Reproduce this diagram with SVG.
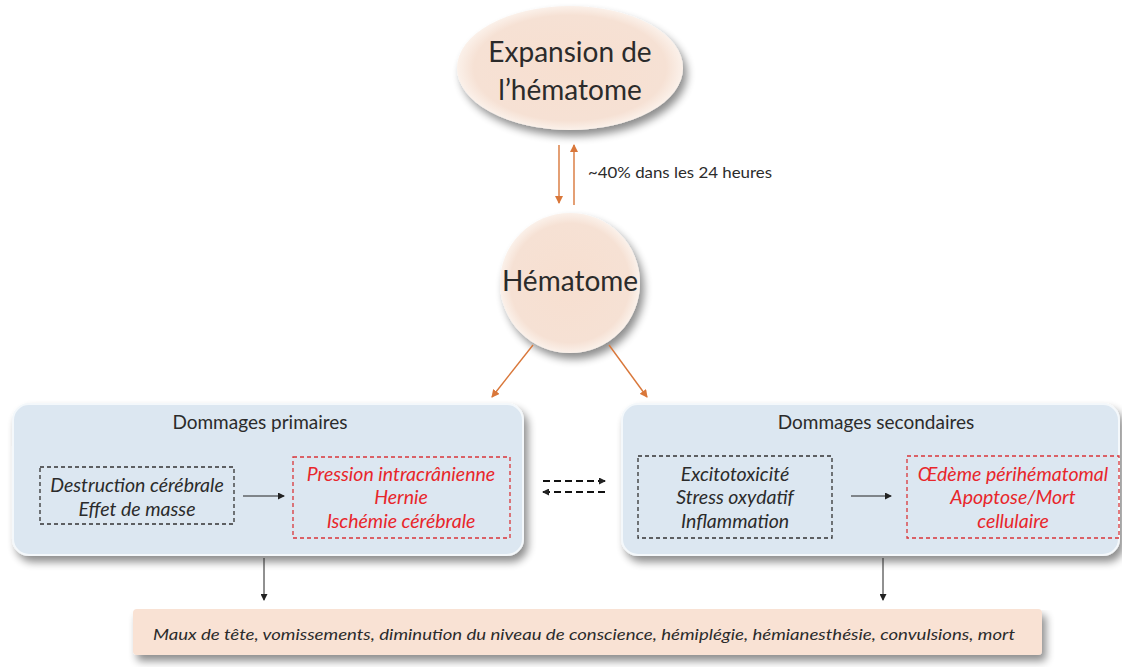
<svg xmlns="http://www.w3.org/2000/svg" width="1122" height="667" viewBox="0 0 1122 667">
<defs>
<style>
.t{font-family:Lato,"Open Sans","Liberation Sans",sans-serif;fill:#2b2b2b}
.big{font-size:28px}
.hd{font-size:19px}
.it{font-size:19.5px;font-style:italic}
.red{fill:#e8262b}
.blk{fill:none;stroke:#333;stroke-width:1.3;stroke-dasharray:4 3}
.rbox{fill:none;stroke:#d9363a;stroke-width:1.3;stroke-dasharray:4 3}
.panel{fill:#dce7f1;stroke:#f4f8fb;stroke-width:2}
.or{stroke:#d9773a;stroke-width:1.4;fill:none}
.bk{stroke:#222;stroke-width:1;fill:none}
.dsh{stroke:#111;stroke-width:2;stroke-dasharray:7 4;fill:none}
</style>
<radialGradient id="peach" cx="50%" cy="50%" r="50%">
<stop offset="0" stop-color="#f7dfd0"/>
<stop offset="0.85" stop-color="#f6e1d4"/>
<stop offset="1" stop-color="#fbf1ea"/>
</radialGradient>
<filter id="sh" x="-10%" y="-10%" width="125%" height="135%">
<feGaussianBlur in="SourceAlpha" stdDeviation="4"/>
<feOffset dx="4" dy="6" result="b"/>
<feComponentTransfer><feFuncA type="linear" slope="0.45"/></feComponentTransfer>
<feMerge><feMergeNode/><feMergeNode in="SourceGraphic"/></feMerge>
</filter>
<marker id="ao" markerWidth="8" markerHeight="8" refX="7" refY="4" orient="auto" markerUnits="userSpaceOnUse">
<path d="M0,0 L8,4 L0,8 z" fill="#d9773a"/>
</marker>
<marker id="ab" markerWidth="7" markerHeight="7" refX="6" refY="3.5" orient="auto" markerUnits="userSpaceOnUse">
<path d="M0,0 L7,3.5 L0,7 z" fill="#222"/>
</marker>
</defs>
<rect width="1122" height="667" fill="#fff"/>

<g id="expansion">
<ellipse cx="570" cy="68" rx="113" ry="62" fill="url(#peach)" filter="url(#sh)"/>
<text class="t big" x="570" y="62" text-anchor="middle">Expansion de</text>
<text class="t big" x="570" y="100" text-anchor="middle">l’hématome</text>
</g>

<g id="hematome">
<circle cx="570" cy="283" r="70" fill="url(#peach)" filter="url(#sh)"/>
<text class="t big" x="570" y="291" text-anchor="middle">Hématome</text>
</g>

<g id="primaires">
<rect class="panel" x="13" y="404" width="510" height="151" rx="16" filter="url(#sh)"/>
<text class="t hd" x="260" y="429" text-anchor="middle">Dommages primaires</text>
<rect class="blk" x="40" y="467" width="194" height="57"/>
<text class="t it" x="137" y="492" text-anchor="middle">Destruction cérébrale</text>
<text class="t it" x="137" y="516" text-anchor="middle">Effet de masse</text>
<rect class="rbox" x="293" y="457" width="217" height="81"/>
<text class="t it red" x="401" y="481" text-anchor="middle">Pression intracrânienne</text>
<text class="t it red" x="401" y="504" text-anchor="middle">Hernie</text>
<text class="t it red" x="401" y="528" text-anchor="middle">Ischémie cérébrale</text>
</g>

<g id="secondaires">
<rect class="panel" x="622" y="404" width="497" height="151" rx="16" filter="url(#sh)"/>
<text class="t hd" x="876" y="429" text-anchor="middle">Dommages secondaires</text>
<rect class="blk" x="638" y="456" width="194" height="82"/>
<text class="t it" x="735" y="481" text-anchor="middle">Excitotoxicité</text>
<text class="t it" x="735" y="504" text-anchor="middle">Stress oxydatif</text>
<text class="t it" x="735" y="528" text-anchor="middle">Inflammation</text>
<rect class="rbox" x="907" y="456" width="212" height="82"/>
<text class="t it red" x="1013" y="481" text-anchor="middle">Œdème périhématomal</text>
<text class="t it red" x="1013" y="504" text-anchor="middle">Apoptose/Mort</text>
<text class="t it red" x="1013" y="528" text-anchor="middle">cellulaire</text>
</g>

<g id="symptomes">
<rect x="133" y="609" width="909" height="46" rx="4" fill="#f9e2d4" filter="url(#sh)"/>
<text class="t" x="584" y="640" text-anchor="middle" font-size="16" font-style="italic" textLength="862" lengthAdjust="spacingAndGlyphs">Maux de tête, vomissements, diminution du niveau de conscience, hémiplégie, hémianesthésie, convulsions, mort</text>
</g>

<g id="connectors">
<line class="or" x1="559" y1="145" x2="559" y2="203" marker-end="url(#ao)"/>
<line class="or" x1="574" y1="205" x2="574" y2="145" marker-end="url(#ao)"/>
<text class="t" x="588" y="178" font-size="15" textLength="184" lengthAdjust="spacingAndGlyphs">~40% dans les 24 heures</text>
<line class="or" x1="533" y1="345" x2="492" y2="397" marker-end="url(#ao)"/>
<line class="or" x1="609" y1="345" x2="647" y2="397" marker-end="url(#ao)"/>
<line class="bk" x1="243" y1="496" x2="284" y2="496" marker-end="url(#ab)"/>
<line class="bk" x1="851" y1="496" x2="891" y2="496" marker-end="url(#ab)"/>
<line class="dsh" x1="543" y1="481" x2="605" y2="481" marker-end="url(#ab)"/>
<line class="dsh" x1="605" y1="492" x2="543" y2="492" marker-end="url(#ab)"/>
<line class="bk" x1="264" y1="558" x2="264" y2="600" marker-end="url(#ab)"/>
<line class="bk" x1="883" y1="558" x2="883" y2="600" marker-end="url(#ab)"/>
</g>
</svg>
